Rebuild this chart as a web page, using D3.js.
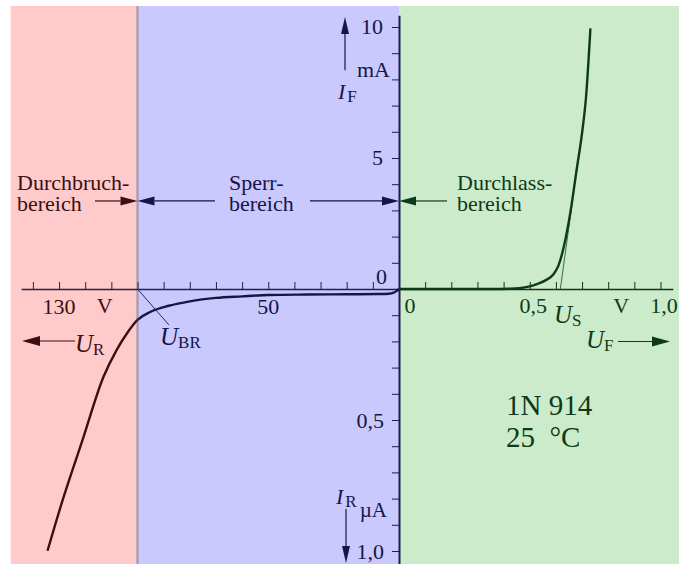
<!DOCTYPE html>
<html>
<head>
<meta charset="utf-8">
<script src="https://cdn.jsdelivr.net/npm/d3@7"></script>
<style>
  html, body { margin: 0; padding: 0; background: #ffffff; }
  svg { display: block; font-family: "Liberation Serif", "Times New Roman", serif; }
</style>
</head>
<body>
<svg id="chart" width="679" height="564"></svg>
<script>
// Forward characteristic of the 1N 914: U_F in V, I_F in mA
const forwardU = [0, 0.35, 0.42, 0.46, 0.50, 0.53, 0.56, 0.59, 0.61, 0.63, 0.655, 0.68, 0.70, 0.715, 0.732];
const forwardI = [0, 0, 0.01, 0.03, 0.10, 0.20, 0.33, 0.55, 0.90, 1.60, 2.90, 4.60, 5.95, 7.30, 9.95];

// Reverse characteristic (blocking + breakdown): U_R in V, I_R in µA
const reverseU = [0, 1, 2, 4, 8, 20, 35, 50, 60, 70, 80, 88, 95, 100, 104, 108, 113, 121, 128.6, 134.4];
const reverseI = [0, 0.008, 0.014, 0.018, 0.019, 0.020, 0.021, 0.023, 0.028, 0.034, 0.047, 0.064, 0.087, 0.118, 0.169, 0.233, 0.335, 0.576, 0.805, 0.999];

// Breakdown voltage and threshold voltage construction lines
const breakdownU = 100;
const ubrLineU = [100, 88];
const ubrLineI = [0, 0.137];
const usLineU = [0.617, 0.70];
const usLineI = [0, 6];

// Axis ticks and labels
const fwdUTicks = [0.1, 0.2, 0.3, 0.4, 0.5, 0.6, 0.7, 0.8, 0.9, 1.0];
const fwdULabelValues = [0, 0.5, 1.0];
const fwdULabelText = ["0", "0,5", "1,0"];
const revUTicks = [10, 20, 30, 40, 50, 60, 70, 80, 90, 100, 110, 120, 130, 140];
const revULabelValues = [50, 130];
const revULabelText = ["50", "130"];
const fwdITicks = [1, 2, 3, 4, 5, 6, 7, 8, 9, 10];
const fwdILabelValues = [5, 10];
const fwdILabelText = ["5", "10"];
const revITicks = [0.1, 0.2, 0.3, 0.4, 0.5, 0.6, 0.7, 0.8, 0.9, 1.0];
const revILabelValues = [0.5, 1.0];
const revILabelText = ["0,5", "1,0"];

// Operating regions
const regionNames = [["Durchbruch-", "bereich"], ["Sperr-", "bereich"], ["Durchlass-", "bereich"]];
const regionFill = ["#ffcaca", "#c9c9fd", "#cbebcb"];
const regionInk = ["#3c0f12", "#151548", "#0e3a18"];

const W = 679, H = 564;
const svg = d3.select("#chart");

// Scales: forward voltage / reverse voltage share the horizontal axis,
// forward current (mA) above and reverse current (µA) below
const xF = d3.scaleLinear().domain([0, 1]).range([399, 660.5]);
const xR = d3.scaleLinear().domain([0, 100]).range([399, 137.5]);
const yF = d3.scaleLinear().domain([0, 10]).range([289, 27]);
const yR = d3.scaleLinear().domain([0, 1]).range([289, 551]);

const x0 = xF(0), y0 = yF(0);
const plotTop = yF(10.8);
const leftEdge = xR(148.5);
const xBR = xR(breakdownU);

// Region backgrounds
const regionX = [[leftEdge, xBR], [xBR, x0], [x0, W]];
svg.selectAll("rect.region")
  .data(regionX)
  .join("rect")
  .attr("class", "region")
  .attr("x", d => d[0])
  .attr("y", plotTop)
  .attr("width", d => d[1] - d[0])
  .attr("height", H - plotTop)
  .attr("fill", (d, i) => regionFill[i]);

// Border between breakdown and blocking region
svg.append("line")
  .attr("x1", xBR).attr("x2", xBR)
  .attr("y1", plotTop).attr("y2", H)
  .attr("stroke", "#a898b2").attr("stroke-width", 2.2);

// Horizontal axis (reverse side, forward side)
function styleAxis(g, color, width) {
  g.select(".domain").attr("stroke", color).attr("stroke-width", width);
  g.selectAll(".tick line").attr("stroke", color).attr("stroke-width", 1);
  g.selectAll(".tick text").remove();
}

const xRAxisScale = xR.copy().domain([0, 144.5]).range([x0, xR(144.5)]);
svg.append("g")
  .attr("transform", `translate(0,${y0})`)
  .call(d3.axisTop(xRAxisScale).tickValues(revUTicks).tickSize(7).tickSizeOuter(0).tickFormat(""))
  .call(g => styleAxis(g, "#22224a", 1.6));

const xFAxisScale = xF.copy().domain([0, 1.047]).range([x0, xF(1.047)]);
svg.append("g")
  .attr("transform", `translate(0,${y0})`)
  .call(d3.axisTop(xFAxisScale).tickValues(fwdUTicks).tickSize(7).tickSizeOuter(0).tickFormat(""))
  .call(g => styleAxis(g, "#15301a", 1.6));

// Vertical axis (forward current above, reverse current below)
const yFAxisScale = yF.copy().domain([0, 10.45]).range([y0, yF(10.45)]);
svg.append("g")
  .attr("transform", `translate(${x0},0)`)
  .call(d3.axisLeft(yFAxisScale).tickValues(fwdITicks).tickSize(7).tickSizeOuter(0).tickFormat(""))
  .call(g => styleAxis(g, "#1c1c50", 2));

const yRAxisScale = yR.copy().domain([0, 1.05]).range([y0, yR(1.05)]);
svg.append("g")
  .attr("transform", `translate(${x0},0)`)
  .call(d3.axisLeft(yRAxisScale).tickValues(revITicks).tickSize(7).tickSizeOuter(0).tickFormat(""))
  .call(g => styleAxis(g, "#1c1c50", 2));

// Clip paths so the reverse curve takes the colour of its region
const defs = svg.append("defs");
defs.append("clipPath").attr("id", "clipBreak")
  .append("rect").attr("x", 0).attr("y", 0).attr("width", xBR).attr("height", H);
defs.append("clipPath").attr("id", "clipBlock")
  .append("rect").attr("x", xBR).attr("y", 0).attr("width", W - xBR).attr("height", H);

// Construction lines for U_BR and U_S
const thin = d3.line();
svg.append("path")
  .attr("d", thin(ubrLineU.map((u, i) => [xR(u), yR(ubrLineI[i])])))
  .attr("fill", "none").attr("stroke", "#2a2a60").attr("stroke-width", 1);
svg.append("path")
  .attr("d", thin(usLineU.map((u, i) => [xF(u), yF(usLineI[i])])))
  .attr("fill", "none").attr("stroke", "#3c6a44").attr("stroke-width", 1);

// Characteristic curves
const curve = d3.line().curve(d3.curveMonotoneX);
const revPts = reverseU.map((u, i) => [xR(u), yR(reverseI[i])]).reverse();
svg.append("path")
  .attr("d", curve(revPts))
  .attr("clip-path", "url(#clipBreak)")
  .attr("fill", "none").attr("stroke", regionInk[0]).attr("stroke-width", 2.4);
svg.append("path")
  .attr("d", curve(revPts))
  .attr("clip-path", "url(#clipBlock)")
  .attr("fill", "none").attr("stroke", regionInk[1]).attr("stroke-width", 2.4);
svg.append("path")
  .attr("d", curve(forwardU.map((u, i) => [xF(u), yF(forwardI[i])])))
  .attr("fill", "none").attr("stroke", regionInk[2]).attr("stroke-width", 2.4);

// Arrow helper for annotation arrows
function arrow(x1, y1, x2, y2, color, len = 17, half = 4.5) {
  const a = Math.atan2(y2 - y1, x2 - x1);
  const bx = x2 - len * Math.cos(a), by = y2 - len * Math.sin(a);
  svg.append("line")
    .attr("x1", x1).attr("y1", y1).attr("x2", bx).attr("y2", by)
    .attr("stroke", color).attr("stroke-width", 1.2);
  svg.append("path")
    .attr("d", `M${x2},${y2}L${bx - half * Math.sin(a)},${by + half * Math.cos(a)}L${bx + half * Math.sin(a)},${by - half * Math.cos(a)}Z`)
    .attr("fill", color);
}

// Region labels (two lines each) with their boundary arrows
const labelY = yF(3.36);
function regionLabel(lines, x, color) {
  lines.forEach((line, k) =>
    svg.append("text").attr("x", x).attr("y", labelY - 11 + k * 21)
      .attr("font-size", 22).attr("fill", color).text(line));
}
regionLabel(regionNames[0], 17, regionInk[0]);
regionLabel(regionNames[1], 229, regionInk[1]);
regionLabel(regionNames[2], 457, regionInk[2]);
arrow(95, labelY, xBR, labelY, regionInk[0]);
arrow(215, labelY, xBR, labelY, regionInk[1]);
arrow(310, labelY, x0, labelY, regionInk[1]);
arrow(447, labelY, x0, labelY, regionInk[2]);

// Tick labels
function tickText(x, y, txt, color, anchor = "middle", size = 22) {
  svg.append("text").attr("x", x).attr("y", y).attr("text-anchor", anchor)
    .attr("font-size", size).attr("fill", color).text(txt);
}
fwdULabelValues.forEach((v, i) =>
  tickText(xF(v) + (v === 0 ? 11 : 3.5), y0 + 24, fwdULabelText[i], regionInk[2]));
revULabelValues.forEach((v, i) =>
  tickText(xR(v), y0 + 25, revULabelText[i], v > breakdownU ? regionInk[0] : regionInk[1]));
tickText(xF(0.85), y0 + 24, "V", regionInk[2]);
tickText(xR(112.5), y0 + 24, "V", regionInk[0]);
fwdILabelValues.forEach((v, i) =>
  tickText(x0 - 16, yF(v) + 7, fwdILabelText[i], regionInk[1], "end"));
revILabelValues.forEach((v, i) =>
  tickText(x0 - 15, yR(v) + 7.5, revILabelText[i], regionInk[1], "end"));
tickText(x0 - 12, y0 - 5, "0", regionInk[1], "end");

// Quantity symbols with subscripts
function symbol(x, y, main, sub, color, size = 25, subSize = 17, dx = 0) {
  const txt = svg.append("text").attr("x", x).attr("y", y).attr("fill", color);
  txt.append("tspan").attr("font-style", "italic").attr("font-size", size).text(main);
  txt.append("tspan").attr("font-size", subSize).attr("dx", dx).attr("dy", 3).text(sub);
}
symbol(75, y0 + 63, "U", "R", regionInk[0]);
symbol(160, y0 + 56, "U", "BR", regionInk[1]);
symbol(554, y0 + 34, "U", "S", regionInk[2]);
symbol(586, y0 + 59, "U", "F", regionInk[2]);
symbol(338, yF(7.27), "I", "F", regionInk[1], 22, 17, 2);
symbol(336, yR(0.82), "I", "R", regionInk[1], 22, 17, 2);
tickText(x0 - 9, yF(8.1), "mA", regionInk[1], "end");
tickText(x0 - 12, yR(0.87), "µA", regionInk[1], "end", 21);

// Axis direction arrows
arrow(75, y0 + 52, 22, y0 + 52, regionInk[0], 18, 5);
arrow(618, y0 + 52.5, 670, y0 + 52.5, regionInk[2], 18, 5);
arrow(345, yF(8.35), 345, yF(10.38), regionInk[1], 17, 4);
arrow(346, yR(0.84), 346, H - 1, regionInk[1], 17, 4);

// Device and temperature
svg.append("text").attr("x", 506).attr("y", 415).attr("font-size", 29)
  .attr("fill", regionInk[2]).text("1N 914");
svg.append("text").attr("x", 506).attr("y", 446.5).attr("font-size", 29)
  .attr("fill", regionInk[2]).text("25\u2002\u00B0C");
</script>
</body>
</html>
